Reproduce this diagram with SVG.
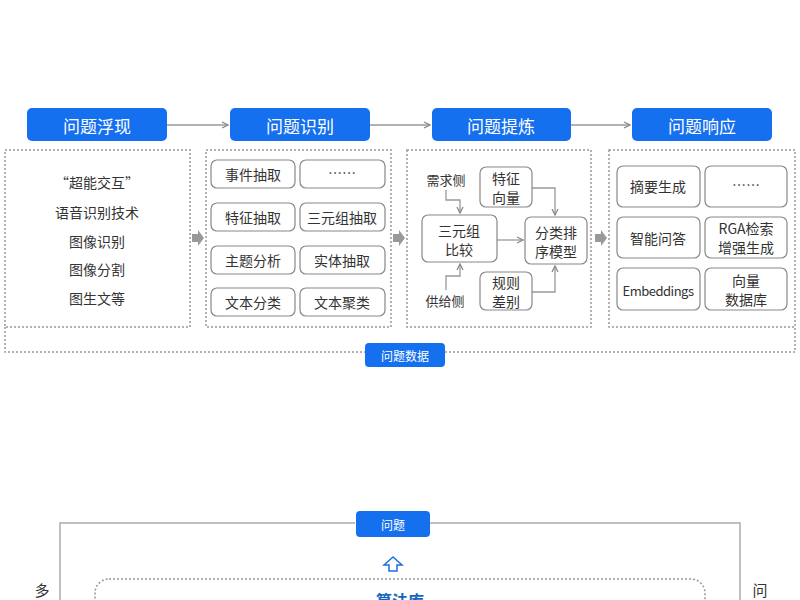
<svg xmlns="http://www.w3.org/2000/svg" width="800" height="600" viewBox="0 0 800 600">
<defs>
<style>
text{font-family:"Noto Sans CJK SC","Liberation Sans",sans-serif;text-anchor:middle;dominant-baseline:central;fill:#333}
.hd{fill:#1570ef}
.ht{fill:#fff;font-size:17px}
.dash{fill:none;stroke:#999;stroke-width:1.5;stroke-dasharray:2 2}
.cell{fill:#fff;stroke:#888;stroke-width:1.2}
.t14{font-size:14px}
.t13{font-size:13px}
.ln{fill:none;stroke:#999;stroke-width:1.3}
</style>
<marker id="ah" markerWidth="8" markerHeight="8" refX="7" refY="4" orient="auto" markerUnits="userSpaceOnUse"><path d="M1,1 L7,4 L1,7" fill="none" stroke="#888" stroke-width="1.3"/></marker>
</defs>
<rect width="800" height="600" fill="#fff"/>
<g id="connectors">
<line class="ln" x1="167" y1="125" x2="228" y2="125" marker-end="url(#ah)"/>
<line class="ln" x1="370" y1="125" x2="430" y2="125" marker-end="url(#ah)"/>
<line class="ln" x1="571" y1="125" x2="630" y2="125" marker-end="url(#ah)"/>
<path d="M192,234 h6 v-4 l6,8 l-6,8 v-4 h-6 z" fill="#999"/>
<path d="M393,234 h6 v-4 l6,8 l-6,8 v-4 h-6 z" fill="#999"/>
<path d="M595,234 h6 v-4 l6,8 l-6,8 v-4 h-6 z" fill="#999"/>
<path class="dash" d="M5,327 V352 H365 M445,352 H795 V327"/>
<path class="ln" d="M446,190 v10 h14 v13" marker-end="url(#ah)"/>
<path class="ln" d="M446,290 v-14 h14 v-12" marker-end="url(#ah)"/>
<line class="ln" x1="497" y1="240" x2="523" y2="240" marker-end="url(#ah)"/>
<path class="ln" d="M532,188 h23 v27" marker-end="url(#ah)"/>
<path class="ln" d="M532,292 h23 v-26" marker-end="url(#ah)"/>
</g>
<g id="h1"><rect class="hd" x="27" y="108" width="140" height="33" rx="5"/><text class="ht" x="97" y="125">问题浮现</text></g>
<g id="h2"><rect class="hd" x="230" y="108" width="140" height="33" rx="5"/><text class="ht" x="300" y="125">问题识别</text></g>
<g id="h3"><rect class="hd" x="432" y="108" width="139" height="33" rx="5"/><text class="ht" x="501" y="125">问题提炼</text></g>
<g id="h4"><rect class="hd" x="632" y="108" width="140" height="33" rx="5"/><text class="ht" x="702" y="125">问题响应</text></g>
<g id="b1"><rect class="dash" x="5" y="150" width="185" height="177"/>
<text class="t14" x="97" y="182">“超能交互”</text><text class="t14" x="97" y="212">语音识别技术</text><text class="t14" x="97" y="241">图像识别</text><text class="t14" x="97" y="269">图像分割</text><text class="t14" x="97" y="298">图生文等</text></g>
<g id="b2"><rect class="dash" x="206" y="150" width="185" height="177"/>
<rect class="cell" x="211" y="160" width="84" height="28" rx="6"/><text class="t14" x="253" y="174">事件抽取</text>
<rect class="cell" x="300" y="160" width="85" height="28" rx="6"/><text class="t14" x="342" y="172">……</text>
<rect class="cell" x="211" y="203" width="84" height="28" rx="6"/><text class="t14" x="253" y="217">特征抽取</text>
<rect class="cell" x="300" y="203" width="85" height="28" rx="6"/><text class="t14" x="342" y="217">三元组抽取</text>
<rect class="cell" x="211" y="246" width="84" height="28" rx="6"/><text class="t14" x="253" y="260">主题分析</text>
<rect class="cell" x="300" y="246" width="85" height="28" rx="6"/><text class="t14" x="342" y="260">实体抽取</text>
<rect class="cell" x="211" y="288" width="84" height="28" rx="6"/><text class="t14" x="253" y="302">文本分类</text>
<rect class="cell" x="300" y="288" width="85" height="28" rx="6"/><text class="t14" x="342" y="302">文本聚类</text></g>
<g id="b3"><rect class="dash" x="407" y="150" width="184" height="177"/>
<text class="t13" x="446" y="179">需求侧</text><text class="t13" x="445" y="300">供给侧</text>
<rect class="cell" x="480" y="167" width="52" height="40" rx="6"/><text class="t14" x="506" y="178">特征</text><text class="t14" x="506" y="197">向量</text>
<rect class="cell" x="422" y="215" width="75" height="47" rx="6"/><text class="t14" x="459" y="230">三元组</text><text class="t14" x="459" y="249">比较</text>
<rect class="cell" x="525" y="217" width="62" height="47" rx="6"/><text class="t14" x="556" y="232">分类排</text><text class="t14" x="556" y="251">序模型</text>
<rect class="cell" x="480" y="272" width="52" height="38" rx="6"/><text class="t14" x="506" y="282">规则</text><text class="t14" x="506" y="301">差别</text></g>
<g id="b4"><rect class="dash" x="609" y="150" width="186" height="177"/>
<rect class="cell" x="617" y="166" width="83" height="41" rx="6"/><text class="t14" x="658" y="186">摘要生成</text>
<rect class="cell" x="705" y="166" width="82" height="41" rx="6"/><text class="t14" x="746" y="184">……</text>
<rect class="cell" x="617" y="217" width="83" height="41" rx="6"/><text class="t14" x="658" y="238">智能问答</text>
<rect class="cell" x="705" y="217" width="82" height="41" rx="6"/><text class="t14" x="746" y="228">RGA检索</text><text class="t14" x="746" y="247">增强生成</text>
<rect class="cell" x="617" y="268" width="83" height="42" rx="6"/><text class="t13" x="658" y="290" style="letter-spacing:-0.5px">Embeddings</text>
<rect class="cell" x="705" y="268" width="82" height="42" rx="6"/><text class="t14" x="746" y="280">向量</text><text class="t14" x="746" y="299">数据库</text></g>
<g id="data"><rect class="hd" x="365" y="343" width="80" height="24" rx="4"/><text x="405" y="355" style="fill:#fff;font-size:12px">问题数据</text></g>
<g id="bottom">
<path d="M60,600 V523 H355 M430,523 H740 V600" fill="none" stroke="#aaa" stroke-width="1.5"/>
<rect class="hd" x="356" y="511" width="74" height="26" rx="4"/><text x="393" y="524" style="fill:#fff;font-size:12px">问题</text>
<path d="M393,557 l-9,8 h5 v6 h8 v-6 h5 z" fill="#fff" stroke="#1e6fd9" stroke-width="1.5"/>
<rect class="dash" x="95" y="579" width="610" height="60" rx="14"/>
<text x="42" y="589" style="font-size:15px">多</text><text x="760" y="589" style="font-size:15px">问</text>
<text x="400" y="600" style="font-size:16px;font-weight:bold;fill:#1565c0">算法库</text>
</g>
</svg>
